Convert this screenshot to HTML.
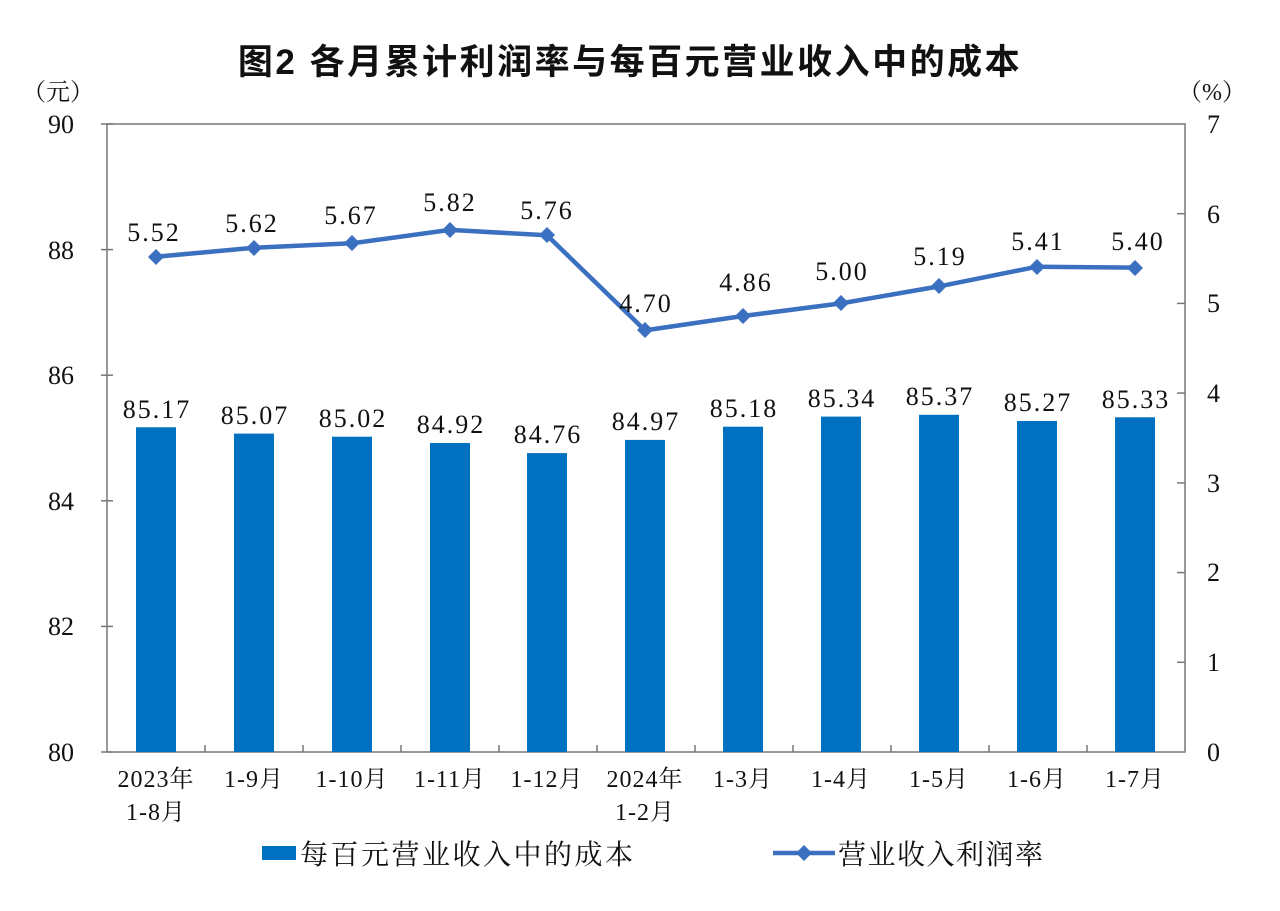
<!DOCTYPE html>
<html><head><meta charset="utf-8"><style>
html,body{margin:0;padding:0;background:#fff;}
svg text{font-family:"Liberation Serif","Noto Serif CJK SC",serif;fill:#111;}
.n{letter-spacing:2px;}
</style></head><body>
<svg width="1280" height="906" viewBox="0 0 1280 906" xmlns="http://www.w3.org/2000/svg">
<text x="630" y="74" text-anchor="middle" font-size="35" font-weight="bold" letter-spacing="2.5" style="font-family:'Liberation Sans','Noto Sans CJK SC',sans-serif">图2  各月累计利润率与每百元营业收入中的成本</text>
<text x="58" y="100" text-anchor="middle" font-size="24">（元）</text>
<text x="1212" y="100" text-anchor="middle" font-size="24">（%）</text>
<rect x="107" y="124" width="1078" height="628" fill="none" stroke="#777" stroke-width="1.5"/>
<g stroke="#777" stroke-width="1.5">
<line x1="101" y1="124" x2="113" y2="124"/><line x1="101" y1="249.6" x2="113" y2="249.6"/><line x1="101" y1="375.2" x2="113" y2="375.2"/><line x1="101" y1="500.8" x2="113" y2="500.8"/><line x1="101" y1="626.4" x2="113" y2="626.4"/><line x1="101" y1="752" x2="113" y2="752"/>
<line x1="1177" y1="213.7" x2="1185" y2="213.7"/><line x1="1177" y1="303.4" x2="1185" y2="303.4"/><line x1="1177" y1="393.1" x2="1185" y2="393.1"/><line x1="1177" y1="482.9" x2="1185" y2="482.9"/><line x1="1177" y1="572.6" x2="1185" y2="572.6"/><line x1="1177" y1="662.3" x2="1185" y2="662.3"/>
<line x1="205" y1="745" x2="205" y2="752"/><line x1="303" y1="745" x2="303" y2="752"/><line x1="401" y1="745" x2="401" y2="752"/><line x1="499" y1="745" x2="499" y2="752"/><line x1="597" y1="745" x2="597" y2="752"/><line x1="695" y1="745" x2="695" y2="752"/><line x1="793" y1="745" x2="793" y2="752"/><line x1="891" y1="745" x2="891" y2="752"/><line x1="989" y1="745" x2="989" y2="752"/><line x1="1087" y1="745" x2="1087" y2="752"/>
</g>
<g font-size="26" text-anchor="end">
<text x="74" y="133">90</text><text x="74" y="259">88</text><text x="74" y="384">86</text><text x="74" y="510">84</text><text x="74" y="635">82</text><text x="74" y="761">80</text>
</g>
<g font-size="26" text-anchor="start">
<text x="1207" y="133">7</text><text x="1207" y="223">6</text><text x="1207" y="312">5</text><text x="1207" y="402">4</text><text x="1207" y="492">3</text><text x="1207" y="581">2</text><text x="1207" y="671">1</text><text x="1207" y="761">0</text>
</g>
<g fill="#0070C0">
<rect x="136" y="427.3" width="40" height="324.7"/>
<rect x="234" y="433.6" width="40" height="318.4"/>
<rect x="332" y="436.7" width="40" height="315.3"/>
<rect x="430" y="443" width="40" height="309"/>
<rect x="527" y="453.1" width="40" height="298.9"/>
<rect x="625" y="439.9" width="40" height="312.1"/>
<rect x="723" y="426.7" width="40" height="325.3"/>
<rect x="821" y="416.6" width="40" height="335.4"/>
<rect x="919" y="414.8" width="40" height="337.2"/>
<rect x="1017" y="421" width="40" height="331"/>
<rect x="1115" y="417.3" width="40" height="334.7"/>
</g>
<g font-size="26" text-anchor="middle" class="n">
<text x="157" y="418">85.17</text><text x="255" y="424">85.07</text><text x="353" y="427">85.02</text><text x="451" y="433">84.92</text><text x="548" y="443">84.76</text><text x="646" y="430">84.97</text><text x="744" y="417">85.18</text><text x="842" y="407">85.34</text><text x="940" y="405">85.37</text><text x="1038" y="411">85.27</text><text x="1136" y="408">85.33</text>
</g>
<polyline fill="none" stroke="#3a70bf" stroke-width="4.5" stroke-linejoin="round" points="156,256.8 254,247.8 352,243.3 450,229.9 547,235.3 645,330.4 743,316 841,303.4 939,286.4 1037,266.7 1135,267.6"/>
<g fill="#3a70bf">
<path d="M156,249 l8,8 l-8,8 l-8,-8z"/><path d="M254,240 l8,8 l-8,8 l-8,-8z"/><path d="M352,235 l8,8 l-8,8 l-8,-8z"/><path d="M450,222 l8,8 l-8,8 l-8,-8z"/><path d="M547,227 l8,8 l-8,8 l-8,-8z"/><path d="M645,322 l8,8 l-8,8 l-8,-8z"/><path d="M743,308 l8,8 l-8,8 l-8,-8z"/><path d="M841,295 l8,8 l-8,8 l-8,-8z"/><path d="M939,278 l8,8 l-8,8 l-8,-8z"/><path d="M1037,259 l8,8 l-8,8 l-8,-8z"/><path d="M1135,260 l8,8 l-8,8 l-8,-8z"/>
</g>
<g font-size="26" text-anchor="middle" class="n">
<text x="154" y="241">5.52</text><text x="252" y="232">5.62</text><text x="351" y="224">5.67</text><text x="450" y="211">5.82</text><text x="547" y="219">5.76</text><text x="646" y="312">4.70</text><text x="746" y="291">4.86</text><text x="842" y="280">5.00</text><text x="940" y="265">5.19</text><text x="1038" y="250">5.41</text><text x="1138" y="250">5.40</text>
</g>
<g font-size="24" text-anchor="middle" letter-spacing="1">
<text x="156" y="787">2023年</text><text x="156" y="820">1-8月</text>
<text x="254" y="787">1-9月</text><text x="352" y="787">1-10月</text><text x="450" y="787">1-11月</text><text x="547" y="787">1-12月</text>
<text x="645" y="787">2024年</text><text x="645" y="820">1-2月</text>
<text x="743" y="787">1-3月</text><text x="841" y="787">1-4月</text><text x="939" y="787">1-5月</text><text x="1037" y="787">1-6月</text><text x="1135" y="787">1-7月</text>
</g>
<rect x="262" y="846" width="34" height="14" fill="#0070C0"/>
<text x="300" y="864" font-size="28" letter-spacing="2.5">每百元营业收入中的成本</text>
<line x1="773" y1="853" x2="835" y2="853" stroke="#3a70bf" stroke-width="4.5"/>
<path d="M804,845 l8,8 l-8,8 l-8,-8z" fill="#3a70bf"/>
<text x="838" y="864" font-size="28" letter-spacing="1.5">营业收入利润率</text>
</svg>
</body></html>
